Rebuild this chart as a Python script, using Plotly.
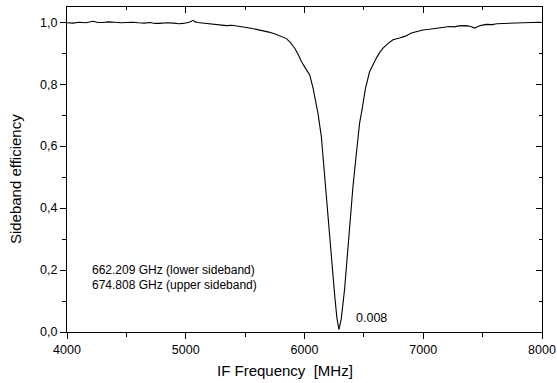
import plotly.graph_objects as go

freq = [4000, 4050, 4100, 4160, 4219, 4260, 4300, 4350, 4400, 4450, 4502, 4550, 4600, 4650,
        4700, 4740, 4782, 4840, 4900, 4940, 4978, 5010, 5030, 5062, 5080, 5100, 5146, 5200,
        5250, 5300, 5343, 5390, 5430, 5470, 5511, 5570, 5623, 5660, 5700, 5764, 5800, 5848,
        5880, 5918, 5950, 5974, 6010, 6044, 6072, 6095, 6114, 6142, 6161, 6184, 6206, 6226,
        6240, 6254, 6273, 6290, 6310, 6325, 6338, 6361, 6386, 6408, 6437, 6464, 6484, 6514,
        6548, 6575, 6605, 6630, 6661, 6700, 6745, 6801, 6850, 6900, 6950, 6997, 7050, 7100,
        7160, 7221, 7260, 7300, 7362, 7400, 7432, 7480, 7530, 7580, 7620, 7670, 7726, 7790,
        7850, 7910, 7978, 8000]
eff = [0.998, 0.997, 1.000, 0.998, 1.003, 0.999, 0.999, 1.001, 1.000, 0.998, 0.999, 1.000,
       0.998, 0.997, 0.999, 0.996, 0.996, 0.998, 0.997, 0.995, 0.996, 0.998, 1.000, 1.006,
       1.001, 0.999, 0.997, 0.995, 0.993, 0.991, 0.989, 0.990, 0.987, 0.985, 0.983, 0.979,
       0.975, 0.972, 0.968, 0.960, 0.955, 0.947, 0.935, 0.916, 0.893, 0.873, 0.850, 0.830,
       0.787, 0.745, 0.705, 0.630, 0.540, 0.447, 0.355, 0.250, 0.180, 0.119, 0.045, 0.008,
       0.043, 0.095, 0.140, 0.248, 0.370, 0.469, 0.577, 0.674, 0.717, 0.787, 0.840, 0.862,
       0.884, 0.900, 0.916, 0.930, 0.943, 0.949, 0.955, 0.965, 0.970, 0.975, 0.977, 0.980,
       0.983, 0.986, 0.985, 0.988, 0.989, 0.986, 0.981, 0.989, 0.993, 0.992, 0.995, 0.996,
       0.997, 0.996, 0.998, 0.999, 1.000, 0.999]

x_ticks = [4000, 5000, 6000, 7000, 8000]
x_minor = [4500, 5500, 6500, 7500]
y_ticks = [0.0, 0.2, 0.4, 0.6, 0.8, 1.0]
y_minor = [0.1, 0.3, 0.5, 0.7, 0.9]
y_tick_labels = ["0,0", "0,2", "0,4", "0,6", "0,8", "1,0"]
min_label = "0.008"
info_lines = ["662.209 GHz (lower sideband)", "674.808 GHz (upper sideband)"]

FONT = "Arial, 'Liberation Sans', sans-serif"
Y_TOP = 1.049

fig = go.Figure()
fig.add_trace(go.Scatter(x=freq, y=eff, mode="lines",
                         line=dict(color="black", width=1.1), showlegend=False,
                         hoverinfo="skip"))
fig.add_trace(go.Scatter(x=freq, y=eff, mode="lines", xaxis="x2", yaxis="y2",
                         line=dict(color="rgba(0,0,0,0)", width=0), showlegend=False,
                         hoverinfo="skip"))

common = dict(showgrid=False, zeroline=False, showline=True, linecolor="black",
              linewidth=1, tickcolor="black", tickwidth=1, automargin=False)

fig.update_layout(
    width=557, height=383,
    margin=dict(l=67, r=15, t=7, b=51, autoexpand=False),
    paper_bgcolor="white", plot_bgcolor="white",
    font=dict(family=FONT, color="black", size=12.5),
    xaxis=dict(range=[4000, 8000], tickvals=x_ticks, ticks="outside", ticklen=6,
               minor=dict(tickvals=x_minor, ticks="outside", ticklen=4,
                          tickcolor="black", tickwidth=1),
               tickfont=dict(size=12.5), **common),
    yaxis=dict(range=[0, Y_TOP], tickvals=y_ticks, ticktext=y_tick_labels,
               ticks="outside", ticklen=6,
               minor=dict(tickvals=y_minor, ticks="outside", ticklen=4,
                          tickcolor="black", tickwidth=1),
               tickfont=dict(size=12.5), **common),
    xaxis2=dict(range=[4000, 8000], overlaying="x", side="top", anchor="y",
                tickvals=x_ticks, ticks="inside", ticklen=6, showticklabels=False,
                minor=dict(tickvals=x_minor, ticks="inside", ticklen=3,
                           tickcolor="black", tickwidth=1),
                **common),
    yaxis2=dict(range=[0, Y_TOP], overlaying="y", side="right", anchor="x",
                tickvals=y_ticks, ticks="inside", ticklen=6, showticklabels=False,
                minor=dict(tickvals=y_minor, ticks="inside", ticklen=3,
                           tickcolor="black", tickwidth=1),
                **common),
)

annotations = [
    dict(text="IF Frequency \u00a0[MHz]", xref="paper", yref="paper",
         x=0.459, y=-0.117, xanchor="center",
         yanchor="middle", showarrow=False, font=dict(size=15)),
    dict(text="Sideband efficiency", xref="paper", yref="paper",
         x=-0.107, y=0.471, xanchor="center",
         yanchor="middle", textangle=-90, showarrow=False, font=dict(size=15)),
    dict(text=min_label, x=6420, y=0.045, xanchor="left", yanchor="middle",
         showarrow=False, font=dict(size=12.5)),
    dict(text=info_lines[0], x=4190, y=0.2, xanchor="left", yanchor="middle",
         showarrow=False, font=dict(size=12)),
    dict(text=info_lines[1], x=4190, y=0.152, xanchor="left", yanchor="middle",
         showarrow=False, font=dict(size=12)),
]
fig.update_layout(annotations=annotations)

fig.write_html(
    "out.html",
    config={"displayModeBar": False, "staticPlot": True},
    post_script="document.body.style.margin='0';"
                "document.documentElement.style.overflow='hidden';"
                "document.body.style.overflow='hidden';",
)
